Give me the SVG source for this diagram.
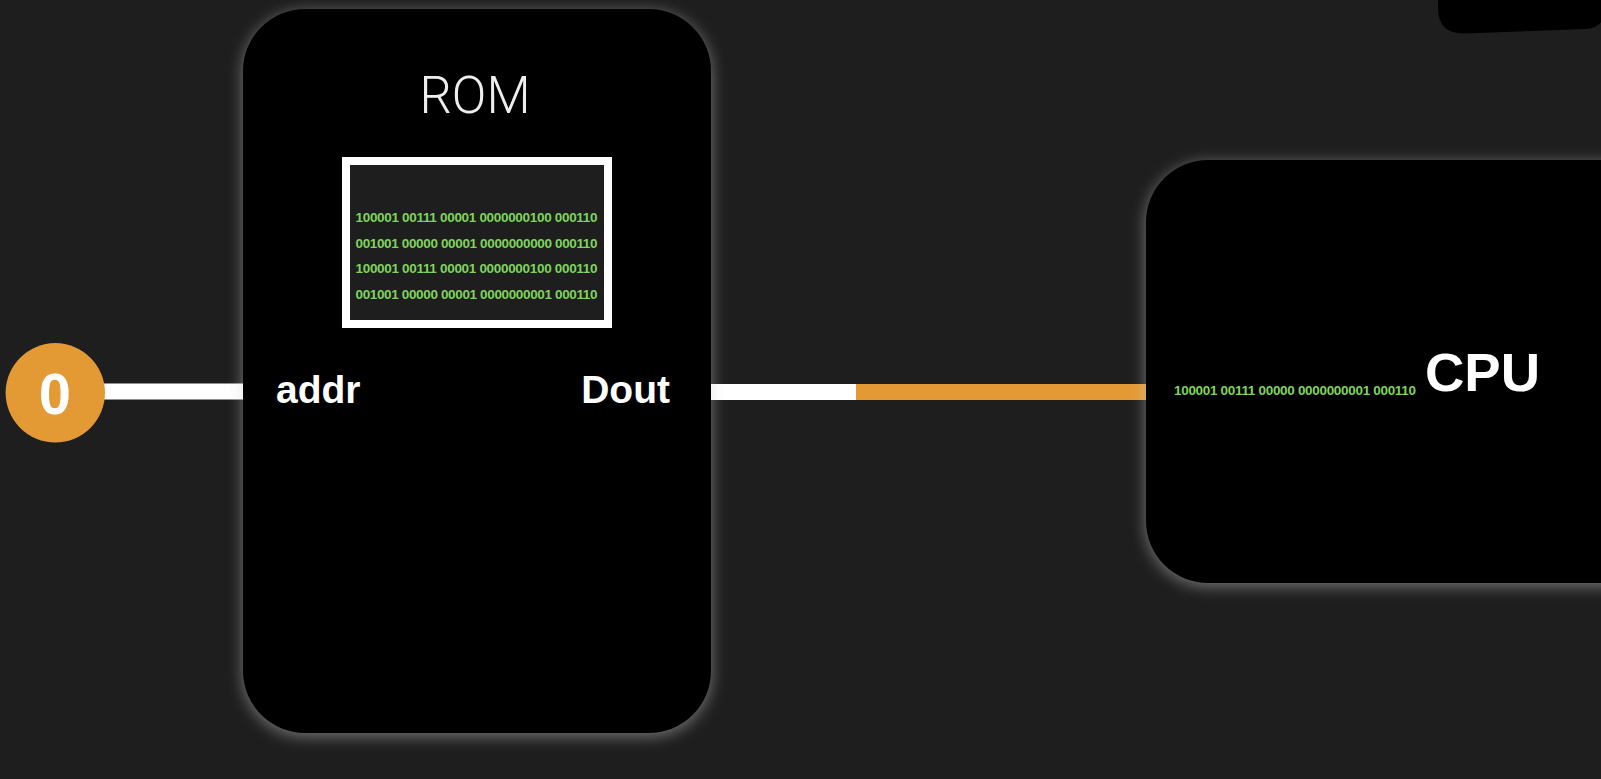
<svg xmlns="http://www.w3.org/2000/svg" width="1601" height="779" viewBox="0 0 1601 779">
<style>
.bin{font-family:"Liberation Sans",Arial,sans-serif;font-weight:bold;fill:#7ed35c;font-size:13.5px}
.lbl{font-family:"Liberation Sans",Arial,sans-serif;font-weight:bold;fill:#ffffff}
.box{fill:#000000}
.halo{fill:#d0d0d0;opacity:0.5}
</style>
<defs>
<filter id="glow" x="-20%" y="-20%" width="140%" height="140%">
<feGaussianBlur stdDeviation="8"/>
<feOffset dy="3"/>
</filter>
</defs>
<rect x="0" y="0" width="1601" height="779" fill="#1e1e1e"/>
<g id="topright">
<path d="M1438 -10 L1438 8 Q1438 34 1465 33.5 L1585 29 Q1600 28.5 1603 18 L1603 -10 Z" class="box"/>
</g>
<g id="connectors">
<rect x="104" y="383.5" width="141" height="16" fill="#ffffff"/>
<rect x="709" y="384" width="147" height="16" fill="#ffffff"/>
<rect x="856" y="384" width="292" height="16" fill="#e39a34"/>
</g>
<g id="rom">
<rect x="243" y="9" width="468" height="724" rx="62" class="halo" filter="url(#glow)"/>
<rect x="243" y="9" width="468" height="724" rx="62" class="box"/>
<text x="475" y="113" text-anchor="middle" style="font-family:Roboto,'Liberation Sans',sans-serif;font-weight:300;font-size:51px;fill:#eeeeee">ROM</text>
<rect x="346" y="161" width="262" height="163" fill="#1e1e1e" stroke="#ffffff" stroke-width="8"/>
<text class="bin" x="355.5" y="221.5" textLength="242">100001 00111 00001 0000000100 000110</text>
<text class="bin" x="355.5" y="247.5" textLength="242">001001 00000 00001 0000000000 000110</text>
<text class="bin" x="355.5" y="273" textLength="242">100001 00111 00001 0000000100 000110</text>
<text class="bin" x="355.5" y="299" textLength="242">001001 00000 00001 0000000001 000110</text>
<text class="lbl" x="276" y="403" font-size="39">addr</text>
<text class="lbl" x="670" y="403" font-size="39" text-anchor="end">Dout</text>
</g>
<g id="cpu">
<rect x="1146" y="160" width="560" height="423" rx="62" class="halo" filter="url(#glow)"/>
<rect x="1146" y="160" width="560" height="423" rx="62" class="box"/>
<text class="bin" x="1174" y="395" font-size="12.5" textLength="242">100001 00111 00000 0000000001 000110</text>
<text class="lbl" x="1425" y="391" font-size="54.5">CPU</text>
</g>
<g id="addr0">
<circle cx="55.3" cy="392.8" r="49.7" fill="#e39a34"/>
<text class="lbl" x="55" y="414" font-size="58" text-anchor="middle">0</text>
</g>
</svg>
